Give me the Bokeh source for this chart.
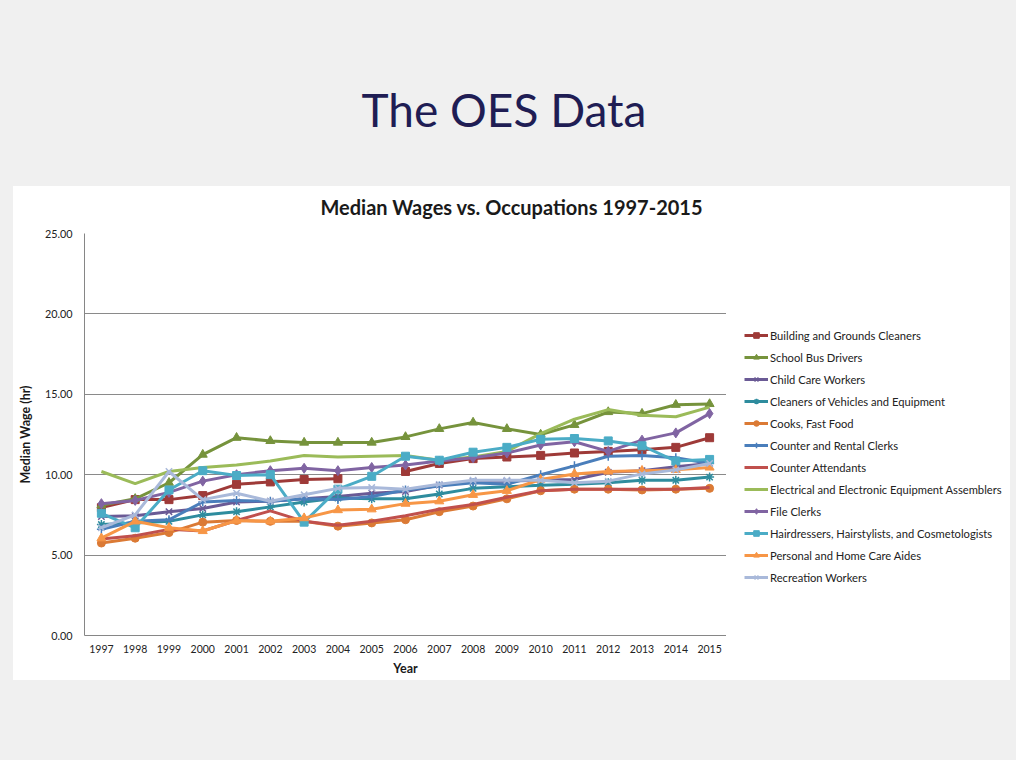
import math
from bokeh.plotting import figure
from bokeh.models import (ColumnDataSource, Range1d, FixedTicker, FactorRange,
                          NumeralTickFormatter, Legend, LegendItem, Div)
from bokeh.layouts import column, row
from bokeh.embed import file_html
from bokeh.resources import INLINE

nan = float("nan")

years = [str(y) for y in range(1997, 2016)]

building = [7.95, 8.45, 8.45, 8.7, 9.4, 9.55, 9.7, 9.75, nan, 10.2, 10.7, 11.0, 11.1, 11.2, 11.35, 11.45, 11.55, 11.7, 12.3]
school = [8.1, 8.5, 9.5, 11.25, 12.3, 12.1, 12.0, 12.0, 12.0, 12.35, 12.85, 13.25, 12.85, 12.5, 13.1, 13.9, 13.8, 14.35, 14.4]
child = [7.4, 7.45, 7.7, 7.9, 8.3, 8.35, 8.5, 8.65, 8.85, 8.95, 9.35, 9.6, 9.6, 9.65, 9.7, 10.15, 10.25, 10.5, 10.7]
cleaners = [6.9, 7.0, 7.1, 7.5, 7.7, 8.0, 8.3, 8.55, 8.5, 8.5, 8.8, 9.15, 9.25, 9.35, 9.4, 9.5, 9.65, 9.65, 9.85]
cooks = [5.75, 6.05, 6.4, 7.05, 7.15, 7.1, 7.1, 6.8, 7.0, 7.2, 7.7, 8.05, 8.5, 9.0, 9.1, 9.1, 9.05, 9.1, 9.15]
counter_rental = [6.6, 7.1, 7.2, 8.3, 8.4, 8.35, 8.5, 8.45, 8.65, 9.05, 9.3, 9.5, 9.4, 10.0, 10.55, 11.15, 11.2, 11.05, 10.7]
counter_att = [6.0, 6.2, 6.6, 6.5, 7.15, 7.75, 7.1, 6.85, 7.1, 7.45, 7.85, 8.15, 8.6, 9.0, 9.1, 9.1, 9.1, 9.1, 9.2]
electrical = [10.2, 9.45, 10.2, 10.45, 10.6, 10.85, 11.2, 11.1, 11.15, 11.2, 10.9, 11.1, 11.45, 12.55, 13.45, 14.05, 13.7, 13.6, 14.2]
file_clerks = [8.2, 8.4, 8.9, 9.6, 10.0, 10.25, 10.4, 10.25, 10.45, 10.6, 10.85, 11.05, 11.35, 11.85, 12.05, 11.45, 12.15, 12.6, 13.8]
hair = [7.6, 6.7, 9.05, 10.25, 9.95, 10.0, 7.05, 9.1, 9.9, 11.15, 10.9, 11.4, 11.7, 12.2, 12.25, 12.1, 11.8, 10.85, 10.95]
personal = [6.05, 7.1, 6.7, 6.5, 7.15, 7.1, 7.3, 7.8, 7.85, 8.2, 8.35, 8.75, 9.0, 9.7, 10.05, 10.2, 10.25, 10.3, 10.45]
recreation = [6.7, 7.5, 10.2, 8.45, 8.85, 8.35, 8.75, 9.15, 9.2, 9.1, 9.4, 9.65, 9.65, 9.65, 9.5, 9.6, 10.05, 10.3, 10.7]

series_names = [
    "Building and Grounds Cleaners",
    "School Bus Drivers",
    "Child Care Workers",
    "Cleaners of Vehicles and Equipment",
    "Cooks, Fast Food",
    "Counter and Rental Clerks",
    "Counter Attendants",
    "Electrical and Electronic Equipment Assemblers",
    "File Clerks",
    "Hairdressers, Hairstylists, and Cosmetologists",
    "Personal and Home Care Aides",
    "Recreation Workers",
]
series_values = [building, school, child, cleaners, cooks, counter_rental,
                 counter_att, electrical, file_clerks, hair, personal, recreation]
series_colors = ["#9E3A38", "#76933C", "#6A5A95", "#2E8C9E", "#DB7A35", "#4A7EBB",
                 "#C0504D", "#9BBB59", "#8064A2", "#4BACC6", "#F79646", "#A9B9DA"]
series_markers = ["square", "triangle", "x", "asterisk", "circle", "cross",
                  None, None, "diamond", "square", "triangle", "x"]
marker_sizes = [8, 9, 9, 9, 8, 9, 0, 0, 10, 8, 9, 9]

slide_title = "The OES Data"
chart_title = "Median Wages vs. Occupations 1997-2015"
y_label = "Median Wage (hr)"
x_label = "Year"
y_ticks = [0, 5, 10, 15, 20, 25]

FONT = "Lato"

# main chart
p = figure(frame_width=642, frame_height=402, x_range=years, y_range=Range1d(0, 25),
           output_backend="svg", toolbar_location=None, title=None,
           min_border_left=71, min_border_right=0,
           min_border_top=7, min_border_bottom=45,
           background_fill_color="white", border_fill_color="white",
           outline_line_color=None, margin=0)

# legend panel: a separate canvas holding the legend (its own view of the
# series lies outside its visible range, so only the legend shows)
pl = figure(width=284, height=454, x_range=FactorRange(*years), y_range=Range1d(100, 101),
            output_backend="svg", toolbar_location=None, title=None,
            x_axis_location=None, y_axis_location=None, min_border=0,
            background_fill_color="white", border_fill_color="white",
            outline_line_color=None, margin=0)
pl.grid.visible = False

src = ColumnDataSource(dict(year=years, **{f"s{i}": v for i, v in enumerate(series_values)}))


def draw(fig, xk, yk, i):
    col = series_colors[i]
    rs = [fig.line(xk, yk, source=src, line_color=col, line_width=3)]
    m = series_markers[i]
    if m:
        if m in ("x", "asterisk", "cross"):
            rs.append(fig.scatter(xk, yk, source=src, marker=m, size=marker_sizes[i],
                                  line_color=col, line_width=1.5))
        else:
            rs.append(fig.scatter(xk, yk, source=src, marker=m, size=marker_sizes[i],
                                  fill_color=col, line_color=col))
    return rs


items = []
for i, name in enumerate(series_names):
    draw(p, "year", f"s{i}", i)
    rs = draw(pl, "year", f"s{i}", i)
    items.append(LegendItem(label=name, renderers=rs))

legend = Legend(items=items, location=(18, 51), orientation="vertical",
                label_text_font=FONT, label_text_font_size="11.2px",
                label_text_color="#222222",
                glyph_width=24, glyph_height=14, label_height=14,
                label_standoff=2, spacing=8, padding=0, margin=0,
                border_line_color=None, background_fill_alpha=0)
pl.add_layout(legend)

p.yaxis.ticker = FixedTicker(ticks=y_ticks)
p.yaxis.formatter = NumeralTickFormatter(format="0.00")
for ax in (p.xaxis, p.yaxis):
    ax.axis_line_color = "#868686"
    ax.major_tick_line_color = None
    ax.minor_tick_line_color = None
    ax.major_tick_out = 0
    ax.major_tick_in = 0
    ax.major_label_text_font = FONT
    ax.major_label_text_color = "#222222"
    ax.axis_label_text_font = FONT
    ax.axis_label_text_font_style = "bold"
    ax.axis_label_text_color = "#1a1a1a"
p.yaxis.major_label_text_font_size = "10.8px"
p.xaxis.major_label_text_font_size = "10.5px"
p.yaxis.axis_label = y_label
p.yaxis.axis_label_text_font_size = "12.5px"
p.yaxis.major_label_standoff = 12
p.yaxis.axis_label_standoff = 9
p.xaxis.axis_label = x_label
p.xaxis.axis_label_text_font_size = "12.5px"
p.xaxis.major_label_standoff = 9
p.xaxis.axis_label_standoff = 5
p.xgrid.grid_line_color = None
p.ygrid.grid_line_color = "#8a8a8a"
p.ygrid.grid_line_width = 1
p.x_range.range_padding = 0

chart_title_div = Div(
    text=f'<div style="width:997px;text-align:center;font-family:{FONT};font-weight:bold;'
         f'font-size:20px;line-height:20px;color:#1a1a1a;padding-top:11px;">'
         f'{chart_title}</div>',
    width=997, height=40, margin=0)

chart_row = row(p, pl, spacing=0, margin=0)

chart_box = column(chart_title_div, chart_row, width=997, height=494, spacing=0,
                   margin=(0, 0, 0, 21),
                   styles={"background-color": "white", "overflow": "hidden"})

title_div = Div(
    text=f'<div style="width:1024px;text-align:center;font-family:{FONT};'
         f'font-size:46px;line-height:46px;color:#1f1d54;padding-top:95px;">'
         f'{slide_title}</div>',
    width=1024, height=194, margin=0)

root = column(title_div, chart_box, width=1024, height=768, spacing=0,
              styles={"background-color": "#f0f0f0", "margin": "-8px"})

open("out.html", "w").write(file_html(root, INLINE))
